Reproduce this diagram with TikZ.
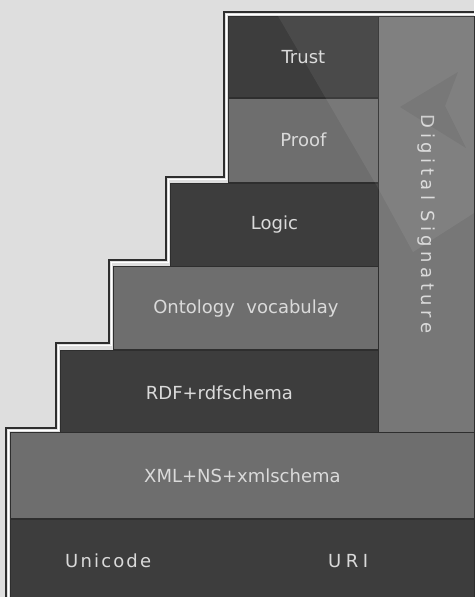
\documentclass[tikz,border=0pt]{standalone}
\usepackage{fontspec}
\setmainfont{DejaVu Sans}
\usetikzlibrary{positioning}
\definecolor{paper}{HTML}{DEDEDE}
\definecolor{stepdark}{HTML}{3D3D3D}
\definecolor{stepmid}{HTML}{6E6E6E}
\definecolor{sigfill}{HTML}{777777}
\definecolor{rim}{HTML}{2E2E2E}
\definecolor{ink}{HTML}{DADADA}

\begin{document}
\begin{tikzpicture}[
    x=1pt, y=-1pt,
    layer/.style={draw=rim, line width=0.8pt, inner sep=0pt, text=ink, font=\fontsize{18}{21}\selectfont},
    darkstep/.style={layer, fill=stepdark},
    midstep/.style={layer, fill=stepmid},
    spaced/.style={text=ink, inner sep=0pt, font=\fontsize{18}{21}\selectfont\addfontfeature{LetterSpace=12}}
]
\useasboundingbox (0,0) rectangle (474,597);
\fill[paper] (0,0) rectangle (474,597);
% the stairs, top to bottom
\node[darkstep, anchor=north west, minimum width=150pt, minimum height=81pt] (trust) at (228,16) {Trust};
\node[midstep, below=0pt of trust, minimum width=150pt, minimum height=84pt] (proof) {Proof};
\node[darkstep, anchor=north east, minimum width=208pt, minimum height=83pt] (logic) at (proof.south east) {Logic};
\node[midstep, anchor=north east, minimum width=265pt, minimum height=83pt] (onto) at (logic.south east) {Ontology\ \ vocabulay};
\node[darkstep, anchor=north east, minimum width=318pt, minimum height=85pt] (rdf) at (onto.south east) {RDF+rdfschema};
\node[midstep, anchor=north west, minimum width=464pt, minimum height=86pt] (xml) at (10,432) {XML+NS+xmlschema};
\node[darkstep, below=0pt of xml, minimum width=464pt, minimum height=82pt] (base) {};
\node[spaced, right=55pt of base.west, yshift=-1pt] (unicode) {Unicode};
\node[spaced, right=318pt of base.west, yshift=-1pt, font=\fontsize{18}{21}\selectfont\addfontfeature{LetterSpace=25}] (uri) {URI};
% side column
\node[layer, fill=sigfill, rotate=-90, minimum width=416pt, minimum height=96pt,
      font=\fontsize{18}{21}\selectfont\addfontfeature{LetterSpace=25}] (sig) at (426,224) {Digital Signature};
% faint watermark
\fill[white, opacity=0.07] (278,16) -- (474,16) -- (474,213) -- (413,252) -- (378,188) -- cycle;
\fill[black, opacity=0.06] (400,107) -- (458,72) -- (445,106) -- (466,148) -- cycle;
% stair outline
\foreach \off/\col/\lw in {4/rim/2pt, 1.75/white/1.5pt}
  \draw[\col, line width=\lw] (10-\off,597) |- (60-\off,432-\off) |- (113-\off,347-\off)
    |- (170-\off,264-\off) |- (228-\off,181-\off) |- (474,16-\off);
\end{tikzpicture}
\end{document}
